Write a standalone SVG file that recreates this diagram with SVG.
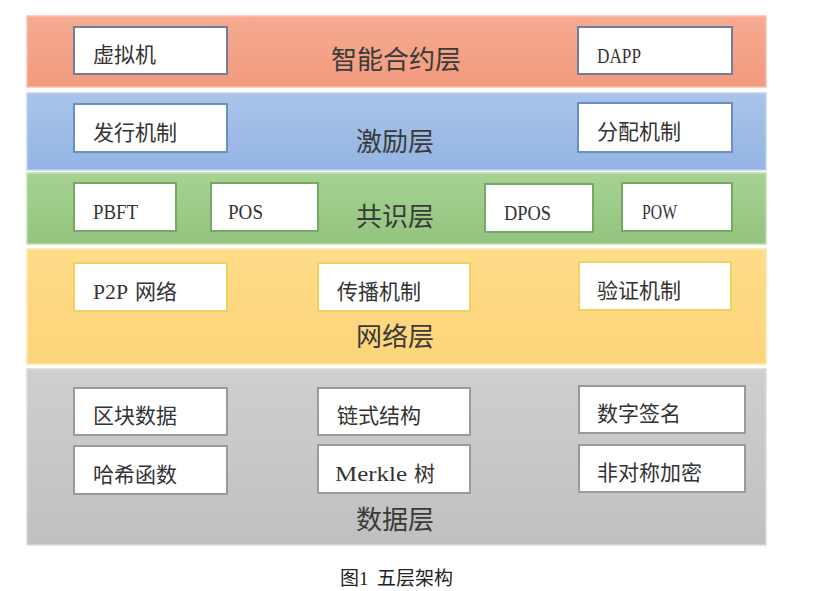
<svg xmlns="http://www.w3.org/2000/svg" width="817" height="591" viewBox="0 0 817 591">
<defs>
<linearGradient id="gO" x1="0" y1="0" x2="0" y2="1"><stop offset="0" stop-color="#f5ab91"/><stop offset="1" stop-color="#f29a7e"/></linearGradient>
<linearGradient id="gB" x1="0" y1="0" x2="0" y2="1"><stop offset="0" stop-color="#a9c4ea"/><stop offset="1" stop-color="#93b4e2"/></linearGradient>
<linearGradient id="gG" x1="0" y1="0" x2="0" y2="1"><stop offset="0" stop-color="#a6d292"/><stop offset="1" stop-color="#93c47f"/></linearGradient>
<linearGradient id="gY" x1="0" y1="0" x2="0" y2="1"><stop offset="0" stop-color="#fedc88"/><stop offset="1" stop-color="#fdd47a"/></linearGradient>
<linearGradient id="gA" x1="0" y1="0" x2="0" y2="1"><stop offset="0" stop-color="#cfcfcf"/><stop offset="1" stop-color="#c0c0c0"/></linearGradient>
</defs>
<style>
.layer{stroke-width:1.5}
.box{fill:#ffffff;stroke-width:2}
.cjk{font-family:"Noto Sans CJK SC","Noto Sans",sans-serif;font-size:21px;fill:#333333}
.lat{font-family:"Liberation Serif","Noto Sans CJK SC",serif;font-size:21px;fill:#333333}
.title{font-family:"Noto Sans CJK SC","Noto Sans",sans-serif;font-size:26px;fill:#3a3a3a;text-anchor:middle}
.cap{font-family:"Liberation Serif","Noto Sans CJK SC",serif;font-size:19px;fill:#222222}
</style>
<rect width="817" height="591" fill="#ffffff"/>

<g id="layer-contract">
<rect class="layer" x="27" y="16" width="739" height="71" fill="url(#gO)" stroke="#f7c0ab"/>
<text class="title" x="396" y="69">智能合约层</text>
</g>
<g id="layer-incentive">
<rect class="layer" x="27" y="93" width="739" height="77" fill="url(#gB)" stroke="#c0d4ef"/>
<text class="title" x="395" y="151">激励层</text>
</g>
<g id="layer-consensus">
<rect class="layer" x="27" y="173" width="739" height="71" fill="url(#gG)" stroke="#bfdfb0"/>
<text class="title" x="395" y="226">共识层</text>
</g>
<g id="layer-network">
<rect class="layer" x="27" y="249" width="739" height="115" fill="url(#gY)" stroke="#fee6a8"/>
<text class="title" x="395" y="346">网络层</text>
</g>
<g id="layer-data">
<rect class="layer" x="27" y="369" width="739" height="176" fill="url(#gA)" stroke="#dadada"/>
<text class="title" x="395" y="529">数据层</text>
</g>

<g id="n-vm"><rect class="box" x="74" y="27" width="153" height="47" stroke="#6f7f99"/><text class="cjk" x="93" y="62">虚拟机</text></g>
<g id="n-dapp"><rect class="box" x="578" y="27" width="154" height="47" stroke="#6f7f99"/><text class="lat" x="597" y="63" textLength="44" lengthAdjust="spacingAndGlyphs">DAPP</text></g>
<g id="n-issue"><rect class="box" x="74" y="104" width="153" height="48" stroke="#6b8fbf"/><text class="cjk" x="93" y="140">发行机制</text></g>
<g id="n-alloc"><rect class="box" x="578" y="103" width="154" height="49" stroke="#6b8fbf"/><text class="cjk" x="597" y="139">分配机制</text></g>
<g id="n-pbft"><rect class="box" x="74" y="183" width="102" height="48" stroke="#78a865"/><text class="lat" x="93" y="219" textLength="45" lengthAdjust="spacingAndGlyphs">PBFT</text></g>
<g id="n-pos"><rect class="box" x="211" y="183" width="107" height="48" stroke="#78a865"/><text class="lat" x="228" y="219" textLength="35" lengthAdjust="spacingAndGlyphs">POS</text></g>
<g id="n-dpos"><rect class="box" x="485" y="184" width="108" height="48" stroke="#78a865"/><text class="lat" x="504" y="220" textLength="47" lengthAdjust="spacingAndGlyphs">DPOS</text></g>
<g id="n-pow"><rect class="box" x="622" y="183" width="110" height="48" stroke="#78a865"/><text class="lat" x="642" y="219" textLength="35" lengthAdjust="spacingAndGlyphs">POW</text></g>
<g id="n-p2p"><rect class="box" x="74" y="263" width="153" height="48" stroke="#f2cf63"/><text x="93" y="299"><tspan class="lat" textLength="35" lengthAdjust="spacingAndGlyphs">P2P</tspan><tspan class="cjk" x="135">网络</tspan></text></g>
<g id="n-prop"><rect class="box" x="318" y="263" width="152" height="48" stroke="#f2cf63"/><text class="cjk" x="337" y="299">传播机制</text></g>
<g id="n-verify"><rect class="box" x="579" y="262" width="152" height="48" stroke="#f2cf63"/><text class="cjk" x="597" y="298">验证机制</text></g>
<g id="n-block"><rect class="box" x="74" y="388" width="153" height="47" stroke="#9a9a9a"/><text class="cjk" x="93" y="423">区块数据</text></g>
<g id="n-hash"><rect class="box" x="74" y="446" width="153" height="48" stroke="#9a9a9a"/><text class="cjk" x="93" y="482">哈希函数</text></g>
<g id="n-chain"><rect class="box" x="318" y="388" width="152" height="47" stroke="#9a9a9a"/><text class="cjk" x="337" y="423">链式结构</text></g>
<g id="n-merkle"><rect class="box" x="318" y="445" width="152" height="48" stroke="#9a9a9a"/><text x="335" y="481"><tspan class="lat" textLength="72" lengthAdjust="spacingAndGlyphs">Merkle</tspan><tspan class="cjk" x="414">树</tspan></text></g>
<g id="n-sign"><rect class="box" x="579" y="386" width="166" height="47" stroke="#9a9a9a"/><text class="cjk" x="597" y="421">数字签名</text></g>
<g id="n-asym"><rect class="box" x="579" y="445" width="166" height="47" stroke="#9a9a9a"/><text class="cjk" x="597" y="480">非对称加密</text></g>

<g id="connectors"></g>

<text class="cap" x="340" y="585">图1<tspan x="377">五层架构</tspan></text>
</svg>
